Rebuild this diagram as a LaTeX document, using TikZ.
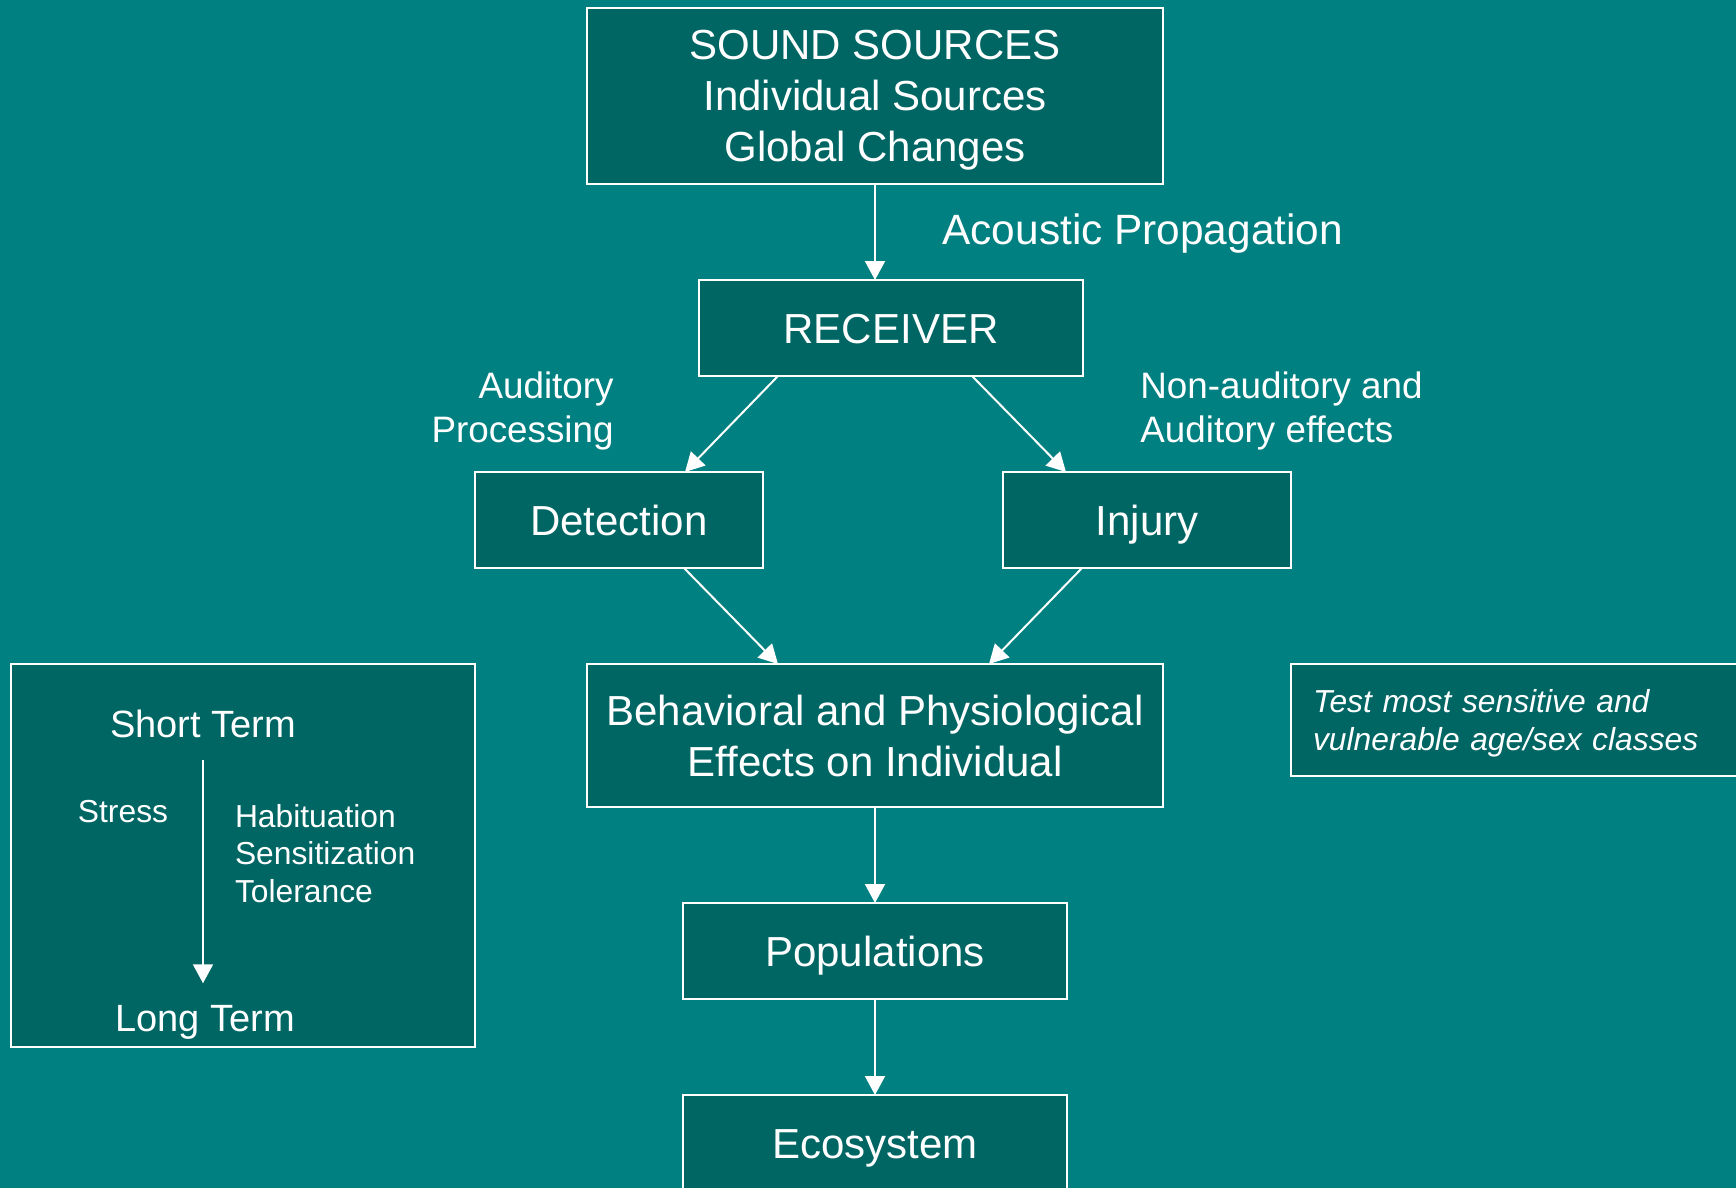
\documentclass[tikz,border=0pt]{standalone}
\usepackage{fontspec}
\setmainfont{Liberation Sans}
\usetikzlibrary{positioning}
\usetikzlibrary{arrows.meta}
\definecolor{bgteal}{RGB}{0,128,128}
\definecolor{boxteal}{RGB}{0,102,100}

\begin{document}
\begin{tikzpicture}[x=1pt, y=1pt,
                    node distance=48pt,
                    box/.style={draw=white,
                      line width=1pt,
                      fill=boxteal,
                      text=white,
                      inner sep=0pt,
                      outer sep=0pt,
                      align=center,
                      font=\fontsize{21}{25.5}\selectfont},
                    oneline/.style={text height=15.2pt,
                      text depth=0pt},
                    lbl/.style={text=white,
                      inner sep=0pt,
                      font=\fontsize{18.4}{22}\selectfont},
                    small/.style={text=white,
                      inner sep=0pt,
                      font=\fontsize{15.9}{18.8}\selectfont},
                    arr/.style={draw=white,
                      line width=1pt,
                      -{Triangle[width=10pt,length=9.5pt]}}]
\fill[bgteal] (0,0) rectangle (868,-594);
\clip (0,0) rectangle (868,-594);
\node (src) [box, text depth=0pt, minimum width=288pt, minimum height=88pt]
  at (437.5,-48) {SOUND SOURCES\\Individual Sources\\Global Changes};
\node (rcv) [box, oneline, minimum width=192pt, minimum height=48pt,
  below=of src, xshift=8pt] {RECEIVER};
\node (det) [box, oneline, minimum width=144pt, minimum height=48pt,
  below=of rcv, xshift=-136pt] {Detection};
\node (inj) [box, oneline, minimum width=144pt, minimum height=48pt,
  below=of rcv, xshift=128pt] {Injury};
\node (beh) [box, minimum width=288pt, minimum height=71.5pt,
  below=of det, xshift=128pt] {Behavioral and Physiological\\Effects on Individual};
\node (pop) [box, oneline, minimum width=192pt, minimum height=48pt,
  below=of beh] {Populations};
\node (eco) [box, oneline, minimum width=192pt, minimum height=48pt,
  below=of pop] {Ecosystem};
\node (ltbox) [box, minimum width=232pt, minimum height=191.5pt,
  below left=0pt and 56pt of beh.north west] {};
\node (tst) [box, text depth=18.8pt, minimum width=242pt, minimum height=56pt,
  text width=220pt, inner xsep=11pt, align=left,
  font=\fontsize{15.9}{18.8}\selectfont\itshape,
  below right=0pt and 64pt of beh.north east]
  {Test most sensitive and\\vulnerable age/sex classes};

\node (prop) [lbl, anchor=west, font=\fontsize{21.2}{25.5}\selectfont]
  at (471,-117) {Acoustic Propagation};
\node (aud) [lbl, anchor=east, align=right] at (307,-205.5) {Auditory\\Processing};
\node (nonaud) [lbl, anchor=west, align=left] at (570,-205.5)
  {Non-auditory and\\Auditory effects};

\node (st) [lbl, anchor=base, font=\fontsize{19}{22}\selectfont]
  at ([shift={(96pt,-36.7pt)}]ltbox.north west) {Short Term};
\node (lt) [lbl, anchor=base, font=\fontsize{19}{22}\selectfont]
  at ([shift={(97pt,-183.5pt)}]ltbox.north west) {Long Term};
\node (stress) [small, anchor=base] at ([shift={(56pt,-79pt)}]ltbox.north west) {Stress};
\node (hab) [small, anchor=north west, align=left]
  at ([shift={(111.8pt,-69.9pt)}]ltbox.north west)
  {Habituation\\Sensitization\\Tolerance};

\draw[arr] (src.south) -- (src.south |- rcv.north);
\draw[arr] ([xshift=39.5pt]rcv.south west) -- ([xshift=-39pt]det.north east);
\draw[arr] ([xshift=-55.5pt]rcv.south east) -- ([xshift=31.5pt]inj.north west);
\draw[arr] ([xshift=-39.5pt]det.south east) -- ([xshift=95.5pt]beh.north west);
\draw[arr] ([xshift=39.5pt]inj.south west) -- ([xshift=-87pt]beh.north east);
\draw[arr] (beh) -- (pop);
\draw[arr] (pop) -- (eco);
\draw[arr] ([yshift=-11pt]st.south) -- ([yshift=10.6pt]st.south |- lt.north);
\end{tikzpicture}
\end{document}
